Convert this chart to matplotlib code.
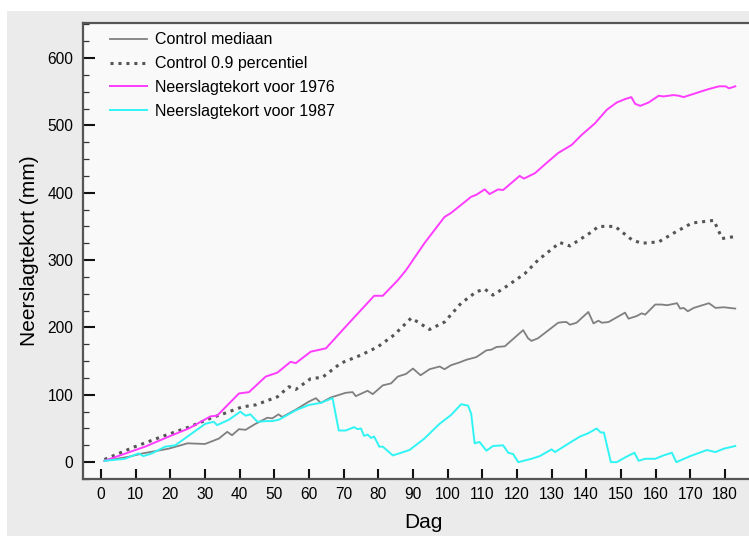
import matplotlib
matplotlib.use("Agg")
import matplotlib.pyplot as plt
from matplotlib.patches import Rectangle
from matplotlib.ticker import MultipleLocator, FixedLocator

plt.rcParams['font.family'] = ['Liberation Sans', 'DejaVu Sans']

# Control mediaan
dag_mediaan = [1, 8, 12, 19.5, 25, 30, 34, 36.4, 37.8, 39.8, 41.7, 44.6, 48, 49.4, 51.2, 52.3,
               56.2, 60, 62, 63.4, 66.3, 70.6, 72.6, 73.5, 76.9, 78.4, 81.3, 83.7, 85.6, 88,
               90, 92.2, 94.8, 97.7, 99.1, 101, 103.4, 105.4, 108.3, 111.2, 112.6, 114.1, 116.5,
               121.8, 123.2, 124.2, 126.1, 131.9, 133.4, 134.3, 135.3, 137.2, 140.6, 142.1,
               143.5, 144.5, 146.4, 151.2, 152.2, 154.6, 156, 157, 159.9, 161.8, 163.3, 166.2,
               167.1, 168.1, 169.3, 171, 175.4, 177.3, 179.7, 183]
mediaan = [2, 8, 13, 20, 28, 27, 35, 45, 40, 49, 48, 57, 66, 65, 71, 67,
           78, 90, 95, 88, 96, 103, 104, 98, 106, 101, 114, 117, 127, 131,
           139, 129, 138, 142, 138, 144, 148, 152, 156, 166, 167, 171, 172,
           196, 184, 180, 184, 207, 208, 208, 204, 207, 223, 206,
           210, 207, 208, 222, 213, 217, 221, 219, 234, 234, 233, 236,
           228, 229, 224, 229, 236, 229, 230, 228]

# Control 0.9 percentiel
dag_p90 = [1, 9.8, 17.6, 25.3, 32, 35.4, 40.7, 44.6, 50.9, 54.2, 56.2, 60.5, 63.9, 69.2, 75,
           79.8, 84.6, 89.5, 91.4, 94.8, 99.1, 103.9, 108.3, 110.7, 113.1, 117, 122.3, 126.1,
           132.4, 135.3, 141.6, 143.5, 148.3, 153.2, 156, 160.9, 165.2, 170.5, 176.8, 179.2,
           181.6, 183]
p90 = [4, 23, 38, 52, 66, 72, 82, 85, 97, 112, 108, 124, 126, 147, 159,
       171, 189, 214, 208, 197, 208, 236, 253, 257, 248, 261, 280, 300,
       326, 321, 342, 350, 350, 330, 325, 327, 340, 355, 359, 332,
       334, 335]

# Neerslagtekort voor 1976
dag_1976 = [1, 12.7, 20.5, 25.3, 31.6, 33.5, 39.8, 42.7, 47.5, 50.9, 54.7, 56.2, 60.5, 64.9,
            70.2, 78.8, 81.3, 85.6, 88, 93.3, 99.1, 101, 106.8, 108.3, 110.7, 112.1, 114.6,
            116, 120.8, 122, 125.2, 128.5, 131.9, 135.8, 138.7, 142.5, 145.9, 148.8, 151.2,
            153, 154.1, 155.6, 158, 160.9, 162.3, 165.2, 166.7, 168.1, 170.5, 172.9, 175.4,
            178.3, 180.2, 181.2, 183]
tekort_1976 = [2, 23, 40, 50, 68, 69, 102, 104, 127, 133, 149, 147, 164, 169,
               199, 247, 247, 270, 285, 325, 364, 370, 394, 397, 405, 398, 405,
               404, 425, 421, 429, 444, 459, 471, 486, 503, 523, 534, 539,
               542, 532, 529, 534, 544, 543, 545, 544, 542, 546, 550, 554,
               558, 558, 555, 558]

# Neerslagtekort voor 1987
dag_1987 = [1, 6.9, 10.8, 12.2, 14.7, 18.5, 21.4, 26.3, 30.1, 32.5, 33.5, 36.9, 40.2, 41.7,
            43.1, 45.1, 48, 49.4, 51.3, 56.2, 60, 63.4, 66.8, 68.6, 70.6, 73, 74, 75, 75.9,
            76.9, 77.9, 78.8, 80.3, 81.3, 84.2, 89, 93.3, 97.7, 101, 103.9, 105.9, 106.8,
            107.8, 109.2, 111.2, 113.1, 116, 117.5, 118.9, 120.4, 124.2, 126.6, 130, 131,
            135.3, 138.2, 140.6, 143, 144.2, 145.1, 147.1, 148.8, 151.2, 153.9, 155.1, 157,
            159.9, 162.3, 164.7, 166, 170, 174.8, 177.3, 179.7, 183]
tekort_1987 = [2, 5, 13, 9, 13, 23, 25, 43, 57, 60, 55, 63, 75, 69,
               71, 60, 61, 61, 63, 77, 85, 88, 95, 47, 47, 52, 49, 50, 39,
               41, 36, 38, 23, 23, 10, 18, 35, 57, 70, 86, 84, 72,
               28, 30, 17, 24, 25, 14, 12, 0, 5, 9, 19, 15,
               29, 38, 43, 50, 44, 44, 0, 0, 7, 14, 2, 5,
               5, 10, 14, 0, 9, 18, 15, 20, 24]

x_ticks = list(range(0, 190, 10))

fig = plt.figure(figsize=(7.49, 5.36), dpi=100, facecolor='white')
fig.patches.append(Rectangle((7 / 749, 0), 1, 1 - 11 / 536, transform=fig.transFigure,
                             facecolor='#ebebeb', edgecolor='none', zorder=-10))

ax = fig.add_axes([83 / 749, 1 - 479 / 536, 680 / 749, 456 / 536])
ax.set_facecolor('#f9f9f9')

ax.plot(dag_mediaan, mediaan, color='#808080', lw=1.3, label='Control mediaan')
ax.plot(dag_p90, p90, color='#555555', lw=2.2, linestyle=(0, (1, 1.6)),
        label='Control 0.9 percentiel')
ax.plot(dag_1976, tekort_1976, color='#ff3cff', lw=1.4, label='Neerslagtekort voor 1976')
ax.plot(dag_1987, tekort_1987, color='#30f4f4', lw=1.4, label='Neerslagtekort voor 1987')

ax.set_xlim(-5.2, 191)
ax.set_ylim(-25, 652)
ax.xaxis.set_major_locator(FixedLocator(x_ticks))
ax.yaxis.set_major_locator(MultipleLocator(100))
ax.yaxis.set_minor_locator(MultipleLocator(25))

ax.tick_params(axis='x', direction='in', length=7.5, width=1.5, color='#111111',
               labelsize=11.2, pad=6, top=False)
ax.tick_params(axis='y', which='major', direction='in', length=8.5, width=1.5,
               color='#111111', labelsize=11.2, pad=7, right=False)
ax.tick_params(axis='y', which='minor', direction='in', length=4, width=0.9,
               color='#333333', right=False)

for side in ['left', 'bottom', 'top']:
    ax.spines[side].set_color('#555555')
    ax.spines[side].set_linewidth(1.6)
ax.spines['right'].set_visible(False)

ax.set_xlabel('Dag', fontsize=15, labelpad=8)
ax.set_ylabel('Neerslagtekort (mm)', fontsize=15, labelpad=6)

ax.legend(loc='upper left', bbox_to_anchor=(0.028, 0.997), frameon=False, fontsize=11.5,
          handlelength=2.3, handletextpad=0.5, labelspacing=0.55, borderpad=0)

fig.savefig('out.png', dpi=100, facecolor=fig.get_facecolor())
